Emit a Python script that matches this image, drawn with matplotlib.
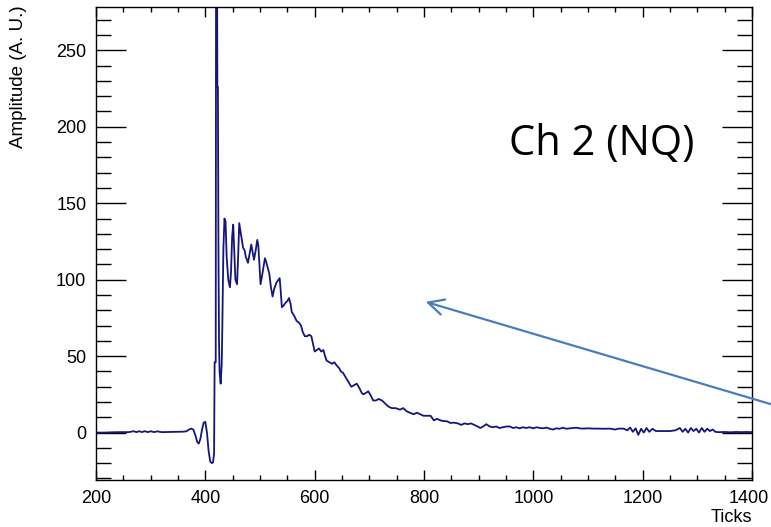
import matplotlib
matplotlib.use("Agg")
import matplotlib.pyplot as plt
import matplotlib.transforms as mtransforms
from matplotlib.ticker import MultipleLocator

# ---- data: (tick, amplitude) ----
baseline = [(200, 0.0), (215, 0.0), (230, 0.2), (245, 0.3), (260, 0.3), (269, 0.9), (274, 0.3),
            (279, 0.9), (284, 0.3), (289, 0.9), (295, 0.3), (300, 0.9), (306, 0.3), (312, 0.8),
            (320, 0.3), (335, 0.4), (350, 0.5), (360, 0.6), (366, 0.9), (370, 2.0), (374, 2.6),
            (378, 2.0), (382, -2.0), (385, -6.0), (388, -7.2), (391, -4.0), (394, 2.0), (397, 6.5),
            (400, 7.0), (403, 0.0), (406, -12.0), (409, -19.0), (412, -20.0), (414, -19.5),
            (416, -14.0)]
pulse = [(417, 46), (419, 46), (419.6, 300), (421.5, 300), (422, 226), (423, 226), (424, 120),
         (425, 60), (426, 40), (428, 32), (430, 45), (431, 67), (433, 120), (435, 140), (437, 138),
         (439, 115), (442, 100), (445, 95), (447, 105), (449, 128), (451, 136), (453, 118),
         (455, 100), (458, 97), (460, 115), (462, 137), (465, 130), (469, 121), (472, 119),
         (474, 115), (478, 111), (481, 117), (484, 123), (486, 119), (489, 113), (492, 119),
         (495, 126), (497, 122), (499, 110), (501, 97), (504, 103), (509, 114), (511, 112),
         (514, 108), (517, 104), (520, 95), (523, 89), (526, 94), (530, 98), (534, 100),
         (536, 101), (538, 92), (540, 82), (543, 83), (547, 85), (550, 86), (553, 88), (556, 84),
         (558, 79)]
decay = [(563, 76), (567, 73), (571, 72), (575, 70), (578, 66), (582, 63), (586, 63), (590, 64),
         (594, 63), (597, 58), (600, 53), (604, 54), (608, 55), (612, 53), (616, 54), (619, 50),
         (622, 47), (627, 46), (632, 45), (636, 46), (640, 44), (645, 42), (648, 40), (652, 39),
         (657, 36), (662, 33), (667, 30), (672, 31), (677, 32), (682, 29), (686, 26), (689, 25),
         (694, 26), (698, 27), (703, 24), (707, 21), (712, 21), (717, 22), (723, 21), (729, 19),
         (735, 17), (741, 16), (748, 16), (756, 15), (762, 16), (768, 14), (774, 13), (781, 12),
         (787, 13), (793, 12), (799, 11), (805, 11), (812, 11), (818, 8), (824, 9), (830, 8),
         (836, 7.5), (842, 7.4), (848, 6.3), (855, 6.5), (862, 6), (868, 5), (874, 6), (880, 5.5),
         (886, 6), (892, 5), (898, 4)]
tail = [(903, 3), (908, 4), (914, 5.5), (920, 4), (926, 3.5), (932, 4), (938, 3), (945, 3.5),
        (951, 4), (957, 4), (963, 3), (969, 3.5), (975, 2.8), (981, 3.5), (987, 3), (993, 3.5),
        (1000, 2.8), (1006, 3.5), (1012, 3), (1018, 2.8), (1024, 3.3), (1030, 2.5), (1036, 2),
        (1042, 2.8), (1048, 2.5), (1054, 3.2), (1060, 2.5), (1067, 2.8), (1073, 3), (1079, 3.2),
        (1086, 2.7), (1092, 2.6), (1100, 2.8), (1110, 2.6), (1120, 2.6), (1130, 2.5), (1140, 2.6),
        (1150, 2.0), (1156, 2.6), (1165, 2.6), (1172, 1.5), (1177, 3.3), (1182, 0.5), (1187, 2.8),
        (1192, -1.5), (1197, 2.5), (1202, 0), (1207, 3), (1212, 0.5), (1218, 2.5), (1224, 1),
        (1230, 1), (1240, 1), (1250, 1), (1260, 1.5), (1268, 3), (1273, 0.5), (1278, 2.5),
        (1283, 0), (1288, 3), (1293, 1), (1298, 2.5), (1303, 0), (1308, 3), (1313, 0.5),
        (1318, 2.5), (1323, 1), (1328, 2), (1333, 0.5), (1338, 0.3), (1342, 0.3), (1350, 0.4),
        (1360, 0.2), (1370, 0.4), (1380, 0.3), (1390, 0.4), (1400, 0.3)]

x_label = "Ticks"
y_label = "Amplitude (A. U.)"
channel_text = "Ch 2 (NQ)"
x_ticks = [200, 400, 600, 800, 1000, 1200, 1400]
y_ticks = [0, 50, 100, 150, 200, 250]

samples = baseline + pulse + decay + tail
ticks = [t for t, _ in samples]
amps = [a for _, a in samples]

# ---- figure ----
plt.rcParams["font.family"] = ["Liberation Sans", "DejaVu Sans"]
fig = plt.figure(figsize=(7.71, 5.27), dpi=100)
ax = fig.add_axes([0.1245, 0.0892, 0.8509, 0.8966])

ax.plot(ticks, amps, color="#16167a", lw=1.3)

ax.set_xlim(200, 1400)
ax.set_ylim(-31, 278)
ax.set_xticks(x_ticks)
ax.set_yticks(y_ticks)
ax.xaxis.set_minor_locator(MultipleLocator(50))
ax.yaxis.set_minor_locator(MultipleLocator(10))

ax.tick_params(which="both", direction="in", top=True, right=True, width=1.0,
               labelsize=13, pad=7, colors="black")
ax.xaxis.set_tick_params(which="major", length=7.2)
ax.xaxis.set_tick_params(which="minor", length=3.6)
ax.yaxis.set_tick_params(which="major", length=21.6)
ax.yaxis.set_tick_params(which="minor", length=10.8)
for s in ax.spines.values():
    s.set_linewidth(1.0)

# last x tick label nudged left so it stays inside the picture
fig.canvas.draw()
last = ax.get_xticklabels()[-1]
last.set_transform(last.get_transform() +
                   mtransforms.ScaledTranslation(-3 / 100, 0, fig.dpi_scale_trans))

ax.set_xlabel(x_label, fontsize=13, loc="right")
ax.xaxis.set_label_coords(1.0, -0.062)
ax.set_ylabel(y_label, fontsize=13.5, loc="top")
ax.yaxis.set_label_coords(-0.105, 1.005)

fig.text(0.660, 0.706, channel_text, fontsize=30, family=["Open Sans", "DejaVu Sans"],
         ha="left", va="baseline", color="black")

ax.annotate("", xy=(803, 85.5), xycoords="data",
            xytext=(1.03, 0.22), textcoords="figure fraction",
            annotation_clip=False,
            arrowprops=dict(arrowstyle="->, head_length=0.8, head_width=0.4",
                            mutation_scale=14, lw=1.6, color="#4a7dbe",
                            shrinkA=0, shrinkB=0))

fig.savefig("out.png", dpi=100)
